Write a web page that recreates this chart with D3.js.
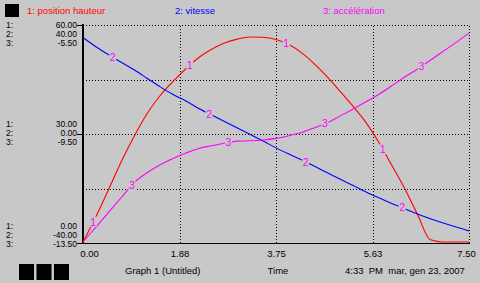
<!DOCTYPE html>
<html>
<head>
<meta charset="utf-8">
<script src="https://cdn.jsdelivr.net/npm/d3@7"></script>
<style>
  body { margin: 0; background: #c8c8c8; }
  svg { display: block; font-family: "Liberation Sans", Arial, sans-serif; }
  text { white-space: pre; }
</style>
</head>
<body>
<svg id="here"></svg>
<script>
// data (STELLA style)
const times = [0, 0.25, 0.5, 0.75, 1, 1.25, 1.5, 1.75, 2, 2.25, 2.5, 2.75, 3, 3.25, 3.5, 3.75,
  4, 4.25, 4.5, 4.75, 5, 5.25, 5.5, 5.75, 6, 6.25, 6.5, 6.75, 7, 7.25, 7.5];
const positionHauteur = [0, 7.0, 14.6, 22.4, 29.4, 35.6, 40.5, 44.4, 47.9, 51.0, 53.3, 55.0, 56.1, 56.7, 56.6, 56.0,
  54.6, 52.3, 49.2, 45.6, 41.6, 37.5, 33.0, 27.5, 21.2, 14.8, 7.6, 0.6, 0, 0, 0];
const vitesse = [35.4, 32.0, 29.0, 26.2, 23.4, 20.3, 17.2, 14.4, 12.0, 9.2, 6.8, 4.4, 2.0, -0.4, -2.8, -5.3,
  -7.6, -9.8, -12.1, -14.5, -16.9, -19.2, -21.6, -23.7, -25.8, -27.7, -29.7, -31.4, -33.0, -34.5, -35.9];
const acceleration = [-13.5, -12.95, -12.4, -11.85, -11.3, -10.94, -10.65, -10.42, -10.22, -10.05, -9.95, -9.86, -9.78, -9.77, -9.74, -9.68,
  -9.58, -9.46, -9.29, -9.1, -8.85, -8.6, -8.33, -8.05, -7.74, -7.42, -7.12, -6.8, -6.47, -6.14, -5.8];

const seriesNames = ["1: position hauteur", "2: vitesse", "3: accélération"];
const y1Ticks = [60, 30, 0], y1Labels = ["60.00", "30.00", "0.00"];
const y2Ticks = [40, 0, -40], y2Labels = ["40.00", "0.00", "-40.00"];
const y3Ticks = [-5.5, -9.5, -13.5], y3Labels = ["-5.50", "-9.50", "-13.50"];
const xTicks = [0, 1.875, 3.75, 5.625, 7.5];
const xTickLabels = ["0.00", "1.88", "3.75", "5.63", "7.50"];
// where the little number tags sit on each curve
const tags1 = [0.2, 2.075, 3.95, 5.825];
const tags2 = [0.575, 2.45, 4.325, 6.2];
const tags3 = [0.95, 2.825, 4.7, 6.575];

const width = 480, height = 283;
const bg = "#c8c8c8";
const colors = ["#ff0000", "#0000ff", "#ff00ff"];
const tagColor = "#ff00ff";
const margin = {top: 25, right: 11, bottom: 40, left: 83};
const plotBottom = height - margin.bottom; // 243

const svg = d3.select("#here").attr("width", width).attr("height", height);
svg.append("rect").attr("width", width).attr("height", height).attr("fill", bg);

const x = d3.scaleLinear().domain([0, 7.5]).range([margin.left, width - margin.right]);
const y1 = d3.scaleLinear().domain([0, 60]).range([plotBottom - 1, margin.top]);
const y2 = d3.scaleLinear().domain([-40, 40]).range([plotBottom - 1, margin.top]);
const y3 = d3.scaleLinear().domain([-13.5, -5.5]).range([plotBottom - 1, margin.top]);
const yGrid = d3.scaleLinear().domain([0, 4]).range([plotBottom, margin.top]);

// dotted grid
svg.append("g")
  .attr("transform", `translate(0,${plotBottom})`)
  .call(d3.axisBottom(x).tickValues(xTicks).tickFormat((d, i) => xTickLabels[i])
    .tickSize(-(plotBottom - margin.top)).tickPadding(7))
  .call(g => g.select(".domain").remove())
  .call(g => g.selectAll(".tick line").attr("stroke", "#000").attr("stroke-dasharray", "1,2")
    .attr("shape-rendering", "crispEdges"))
  .call(g => g.selectAll(".tick text").attr("fill", "#000").attr("font-size", 9.5)
    .attr("font-family", "Liberation Sans, Arial, sans-serif")
    .attr("dx", (d, i) => i === 0 ? 6 : (i === xTicks.length - 1 ? -3 : 0)));

svg.append("g")
  .attr("transform", `translate(${margin.left},0)`)
  .call(d3.axisLeft(yGrid).tickValues([1, 2, 3, 4]).tickFormat("").tickSize(-(width - margin.right - margin.left)))
  .call(g => g.select(".domain").remove())
  .call(g => g.selectAll(".tick line").attr("stroke", "#000").attr("stroke-dasharray", "1,2")
    .attr("shape-rendering", "crispEdges"));

// axes lines
svg.append("line").attr("x1", margin.left - 0.5).attr("x2", margin.left - 0.5)
  .attr("y1", margin.top - 1).attr("y2", plotBottom + 1)
  .attr("stroke", "#000").attr("stroke-width", 2).attr("shape-rendering", "crispEdges");
svg.append("line").attr("x1", margin.left - 1).attr("x2", width - margin.right + 1)
  .attr("y1", plotBottom + 0.5).attr("y2", plotBottom + 0.5)
  .attr("stroke", "#000").attr("stroke-width", 1).attr("shape-rendering", "crispEdges");

// y tick marks and stacked labels
[0, 2, 4].forEach(gi => {
  const yy = yGrid(gi);
  svg.append("line").attr("x1", margin.left - 6).attr("x2", margin.left)
    .attr("y1", yy + 0.5).attr("y2", yy + 0.5).attr("stroke", "#000").attr("shape-rendering", "crispEdges");
});
const labelSets = [y1Labels, y2Labels, y3Labels];
const groupTicks = [y1(y1Ticks[0]), y1(y1Ticks[1]), plotBottom];
const rowOffsets = [[0, 9, 18], [-9, 0, 9], [-17, -8, 1]];
groupTicks.forEach((ty, g) => {
  for (let s = 0; s < 3; s++) {
    const yy = ty + rowOffsets[g][s];
    svg.append("text").attr("x", 6).attr("y", yy).attr("dy", "0.35em")
      .attr("font-size", 8.5).attr("fill", "#000").text((s + 1) + ":");
    svg.append("text").attr("x", 77).attr("y", yy).attr("dy", "0.35em")
      .attr("text-anchor", "end").attr("font-size", 8.5).attr("fill", "#000").text(labelSets[s][g]);
  }
});

// curves
const series = [
  {values: positionHauteur, y: y1, tags: tags1, num: "1"},
  {values: vitesse, y: y2, tags: tags2, num: "2"},
  {values: acceleration, y: y3, tags: tags3, num: "3"}
];
series.forEach((s, i) => {
  const pts = times.map((t, j) => ({t: t, v: s.values[j]}));
  const line = d3.line().x(d => x(d.t)).y(d => s.y(d.v)).curve(d3.curveMonotoneX);
  svg.append("path").datum(pts)
    .attr("fill", "none").attr("stroke", colors[i]).attr("stroke-width", 1.1)
    .attr("d", line);
});
// number tags on top of curves (with a small gap)
series.forEach((s, i) => {
  const vAt = d3.scaleLinear().domain(times).range(s.values);
  s.tags.forEach(t => {
    const cx = x(t), cy = s.y(vAt(t));
    svg.append("rect").attr("x", cx - 3.5).attr("y", cy - 5).attr("width", 7).attr("height", 10).attr("fill", bg);
    svg.append("text").attr("x", cx).attr("y", cy).attr("dy", "0.36em")
      .attr("text-anchor", "middle").attr("font-size", 10.5).attr("fill", tagColor).text(s.num);
  });
});

// legend
svg.append("rect").attr("x", 5).attr("y", 4).attr("width", 14).attr("height", 13).attr("fill", "#000");
const legendX = [27, 175, 323];
seriesNames.forEach((n, i) => {
  svg.append("text").attr("x", legendX[i]).attr("y", 11).attr("dy", "0.35em")
    .attr("font-size", 9.5).attr("fill", colors[i]).text(n);
});

// footer
[19, 36.5, 54].forEach(bx => {
  svg.append("rect").attr("x", bx).attr("y", 264).attr("width", 15).attr("height", 16).attr("fill", "#000");
});
svg.append("text").attr("x", 125).attr("y", 271).attr("dy", "0.35em").attr("font-size", 9.5).text("Graph 1 (Untitled)");
svg.append("text").attr("x", 278).attr("y", 271).attr("dy", "0.35em").attr("text-anchor", "middle").attr("font-size", 9.5).text("Time");
svg.append("text").attr("x", 345).attr("y", 271).attr("dy", "0.35em").attr("font-size", 9.5).text("4:33  PM  mar, gen 23, 2007");
</script>
</body>
</html>
